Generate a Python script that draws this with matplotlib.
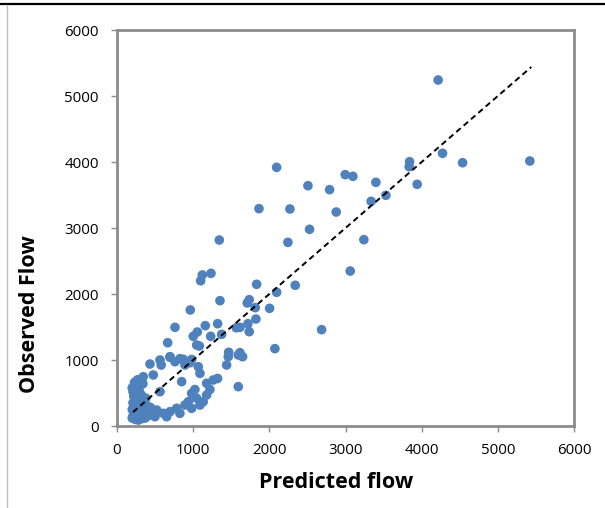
import matplotlib
matplotlib.use("Agg")
import matplotlib.pyplot as plt
from matplotlib.lines import Line2D

predicted = [
    4216, 3841, 3836, 4274, 4537, 5420, 3941, 3530, 3337, 3399, 2996, 3097, 2791, 2507,
    2096, 1864, 2270, 2878, 2528, 2244, 3241, 3062, 1343, 1833, 2340, 2096, 1736, 1710,
    1815, 2003, 1824, 1719, 1736, 1614, 2686, 1120, 1234, 1098, 1352, 962, 761, 1159,
    1321, 1566, 1054, 1001, 1230, 1374, 665, 1046, 1080, 2073, 1466, 1614, 1649, 696,
    827, 870, 980, 1461,
    433, 564, 696, 958, 1067, 1439, 1592, 345, 476, 1089, 1177, 1264, 1320, 849, 564,
    1592, 580, 761, 892,
    980, 1046, 936, 1132, 1220, 1177, 1089, 980, 892, 1023,
    433, 521, 608, 696, 783, 826, 499, 345, 652,
    200, 230, 260, 210, 250, 290, 320, 220, 270, 300, 240, 210, 280, 330, 360, 230, 260,
    300, 200, 340, 380, 220, 260, 300, 350, 400, 210, 250, 290, 330, 370, 420, 240, 280,
    320, 200, 450, 380, 340, 300, 250, 270, 400, 440, 230,
]
observed = [
    5242, 4005, 3929, 4132, 3989, 4015, 3662, 3495, 3404, 3692, 3808, 3783, 3581, 3641,
    3919, 3293, 3288, 3242, 2980, 2783, 2823, 2348, 2818, 2147, 2132, 2026, 1914, 1864,
    1793, 1783, 1621, 1550, 1429, 1495, 1460, 2288, 2313, 2201, 1899, 1758, 1495, 1520,
    1550, 1489, 1424, 1359, 1359, 1389, 1262, 1227, 1212, 1172, 1117, 1111, 1050, 1050,
    1020, 1011, 1008, 1050,
    939, 1000, 1041, 959, 898, 924, 1076, 747, 773, 798, 647, 697, 720, 672, 520,
    596, 924, 974, 924,
    495, 420, 368, 368, 553, 470, 318, 268, 318, 553,
    217, 242, 192, 217, 268, 192, 141, 167, 141,
    580, 600, 560, 520, 500, 540, 470, 450, 430, 400, 380, 350, 340, 360, 320, 300, 280,
    270, 250, 240, 260, 200, 180, 200, 190, 210, 150, 130, 140, 150, 120, 160, 100, 90,
    110, 120, 190, 420, 640, 650, 620, 700, 300, 280, 660,
]
trend_x = [210, 5440]
trend_y = [210, 5440]

xticks = [0, 1000, 2000, 3000, 4000, 5000, 6000]
yticks = [0, 1000, 2000, 3000, 4000, 5000, 6000]

plt.rcParams['font.family'] = ['Open Sans', 'DejaVu Sans']

fig = plt.figure(figsize=(6.05, 5.08), dpi=100)
ax = fig.add_axes([117/605, 1-426/508, (574-117)/605, (426-30)/508])

ax.scatter(predicted, observed, s=48, color='#4F81BD', edgecolors='none', zorder=2)
ax.plot(trend_x, trend_y, color='black', linestyle=(0, (3, 2)), linewidth=1.4, zorder=3)

ax.set_xlim(0, 6000)
ax.set_ylim(0, 6000)
ax.set_xticks(xticks)
ax.set_yticks(yticks)
ax.set_xticklabels([str(t) for t in xticks])
ax.set_yticklabels([str(t) for t in yticks])

for sp in ax.spines.values():
    sp.set_color('#8C8C8C')
    sp.set_linewidth(2.0)
ax.tick_params(axis='both', direction='out', length=4, width=1, color='#8C8C8C',
               labelsize=10.8, labelcolor='black')
ax.tick_params(axis='y', pad=9)
ax.tick_params(axis='x', pad=8)

ax.set_xlabel('Predicted flow', fontsize=15.5, fontweight='bold', va='center', ha='center')
ax.set_ylabel('Observed Flow', fontsize=15.5, fontweight='bold', va='center', ha='center')
ax.xaxis.set_label_coords((336-117)/457, (426-482)/396)
ax.yaxis.set_label_coords((30-117)/457, (426-314)/396)

fig.add_artist(Line2D([0, 1], [1-3.5/508, 1-3.5/508], color='black', linewidth=1.6,
                      transform=fig.transFigure))
fig.add_artist(Line2D([7/605, 7/605], [0, 1-5/508], color='#BFBFBF', linewidth=1.0,
                      transform=fig.transFigure))

fig.savefig('out.png', dpi=100)
